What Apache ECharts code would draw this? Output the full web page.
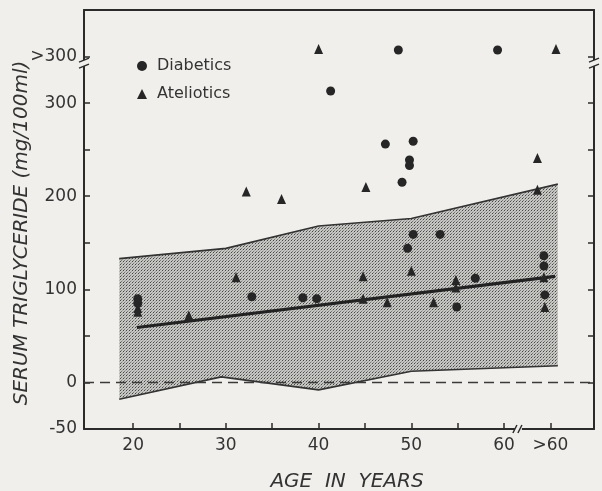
<!DOCTYPE html>
<html><head><meta charset="utf-8">
<script src="https://cdn.jsdelivr.net/npm/echarts@6/dist/echarts.min.js"></script>
<style>html,body{margin:0;padding:0;background:#f0efeb;}#c{width:602px;height:491px;}</style>
</head><body><div id="c"></div>
<script>
// ---- data ----
const diabetics = [
  [20.5, 90], [20.5, 85], [32.8, 92], [38.3, 91], [39.8, 90], [41.3, 313],
  [47.2, 256], [48.6, 357], [49.0, 215], [49.6, 144], [49.8, 239], [49.8, 233],
  [50.2, 259], [50.2, 159], [53.1, 159], [54.9, 81], [56.9, 112], [59.3, 357],
  [64.3, 136], [64.3, 125], [64.4, 94]
];
const ateliotics = [
  [20.5, 80], [20.5, 76], [26.0, 72], [31.1, 113], [32.2, 205], [36.0, 197],
  [40.0, 358], [44.8, 114], [44.8, 90], [45.1, 210], [47.4, 86], [50.0, 120],
  [52.4, 86], [54.8, 110], [54.8, 102], [63.6, 241], [63.6, 207], [64.3, 113],
  [64.4, 81], [65.6, 358]
];
const bandUpper = [[18.5, 133], [30, 144], [40, 168], [50, 176], [65.8, 213]];
const bandLower = [[18.5, -18], [29.5, 6], [40, -8], [50, 12], [65.8, 18]];
const regression = [[20.4, 59], [65.5, 114]];
const zeroLine = [[14.7, 0], [69.7, 0]];
const xTickValues = [20, 25, 30, 35, 40, 45, 50, 55, 60, 65];
const xLabelValues = [20, 30, 40, 50, 60, 65];
const xLabelText = {20: '20', 30: '30', 40: '40', 50: '50', 60: '60', 65: '>60'};
const yTickValues = [0, 50, 100, 150, 200, 250, 300, 350];
const yLabelValues = [-50, 0, 100, 200, 300, 350];
const yLabelText = {'-50': '-50', 0: '0', 100: '100', 200: '200', 300: '300', 350: '>300'};
const breakMarks = [[61.6, -50, 0], [14.7, 343, 1], [69.7, 343, 1]];
const xRange = [14.7, 69.7];
const yRange = [-50, 400];

// ---- styling ----
const BG = '#f0efeb';
const INK = '#2b2b2b';
const FONT = 'DejaVu Sans';

const pc = document.createElement('canvas');
pc.width = 3; pc.height = 3;
const g = pc.getContext('2d');
g.fillStyle = '#c6c6c2'; g.fillRect(0, 0, 3, 3);
g.fillStyle = '#474747'; g.fillRect(0, 0, 1, 1);
g.fillStyle = '#787876'; g.fillRect(1, 2, 1, 1);
g.fillStyle = '#a4a4a2'; g.fillRect(2, 1, 1, 1);

const chart = echarts.init(document.getElementById('c'), null, {renderer: 'canvas'});

const axisLine = {show: true, onZero: false, lineStyle: {color: INK, width: 2}};
const labelStyle = {fontFamily: FONT, fontSize: 17, color: '#333'};

chart.setOption({
  backgroundColor: BG,
  animation: false,
  grid: {left: 84, right: 8, top: 10, bottom: 62, containLabel: false, outerBoundsMode: 'none'},
  legend: {
    orient: 'vertical', left: 132, top: 52, itemWidth: 10, itemHeight: 10, itemGap: 10,
    textStyle: {fontFamily: FONT, fontSize: 16, color: '#333', lineHeight: 18, padding: [0, 0, 0, 5]},
    data: ['Diabetics', 'Ateliotics']
  },
  xAxis: [{
    type: 'value', min: xRange[0], max: xRange[1], position: 'bottom',
    axisLine: axisLine,
    axisTick: {show: true, inside: true, length: 6, customValues: xTickValues, lineStyle: {color: INK, width: 1.5}},
    axisLabel: Object.assign({customValues: xLabelValues, margin: 8, formatter: v => xLabelText[v] || ''}, labelStyle),
    splitLine: {show: false}
  }, {
    type: 'value', min: xRange[0], max: xRange[1], position: 'top',
    axisLine: axisLine, axisTick: {show: false}, axisLabel: {show: false}, splitLine: {show: false}
  }],
  yAxis: [{
    type: 'value', min: yRange[0], max: yRange[1], position: 'left',
    axisLine: axisLine,
    axisTick: {show: true, inside: true, length: 6, customValues: yTickValues, lineStyle: {color: INK, width: 1.5}},
    axisLabel: Object.assign({customValues: yLabelValues, margin: 7, formatter: v => yLabelText[v] || ''}, labelStyle),
    splitLine: {show: false}
  }, {
    type: 'value', min: yRange[0], max: yRange[1], position: 'right',
    axisLine: axisLine,
    axisTick: {show: true, inside: true, length: 6, customValues: yTickValues, lineStyle: {color: INK, width: 1.5}},
    axisLabel: {show: false}, splitLine: {show: false}
  }],
  graphic: [{
    type: 'text', x: 22, y: 233, rotation: Math.PI / 2,
    style: {text: 'SERUM TRIGLYCERIDE (mg/100ml)', font: 'italic 20px "DejaVu Sans"', fill: '#333',
      textAlign: 'center', textVerticalAlign: 'middle'}
  }, {
    type: 'text', x: 347, y: 482,
    style: {text: 'AGE  IN  YEARS', font: 'italic 20px "DejaVu Sans"', fill: '#333',
      textAlign: 'center', textVerticalAlign: 'middle'}
  }],
  series: [{
    type: 'custom', name: 'band', z: 1, silent: true,
    data: [bandUpper[0]],
    renderItem: (params, api) => {
      const pts = bandUpper.map(p => api.coord(p))
        .concat(bandLower.slice().reverse().map(p => api.coord(p)));
      return {type: 'polygon', shape: {points: pts},
        style: {fill: {image: pc, repeat: 'repeat'}, stroke: null}};
    }
  }, {
    type: 'line', name: 'upperEdge', data: bandUpper, symbol: 'none', z: 2, silent: true,
    lineStyle: {color: '#333', width: 1.6}
  }, {
    type: 'line', name: 'lowerEdge', data: bandLower, symbol: 'none', z: 2, silent: true,
    lineStyle: {color: '#333', width: 1.6}
  }, {
    type: 'line', name: 'zero', data: zeroLine, symbol: 'none', z: 3, silent: true,
    lineStyle: {color: '#3a3a3a', width: 1.5, type: [10, 6]}
  }, {
    type: 'line', name: 'regression', data: regression, symbol: 'none', z: 4, silent: true,
    lineStyle: {color: '#222', width: 3.2}
  }, {
    type: 'scatter', name: 'Diabetics', data: diabetics, symbol: 'circle', symbolSize: 9, z: 5,
    itemStyle: {color: '#262626', opacity: 1}
  }, {
    type: 'scatter', name: 'Ateliotics', data: ateliotics, symbol: 'triangle', symbolSize: [9, 10], z: 5,
    itemStyle: {color: '#262626', opacity: 1}
  }, {
    type: 'custom', name: 'breaks', z: 20, silent: true, clip: false,
    data: breakMarks,
    renderItem: (params, api) => {
      const c = api.coord([api.value(0), api.value(1)]);
      const s = {stroke: INK, lineWidth: 1.5};
      if (api.value(2) === 0) {
        return {type: 'group', children: [
          {type: 'rect', shape: {x: c[0] - 4, y: c[1] - 3, width: 7, height: 6}, style: {fill: BG}},
          {type: 'line', shape: {x1: c[0] - 6, y1: c[1] + 4, x2: c[0] - 2, y2: c[1] - 4}, style: s},
          {type: 'line', shape: {x1: c[0] - 1, y1: c[1] + 4, x2: c[0] + 3, y2: c[1] - 4}, style: s}
        ]};
      }
      return {type: 'group', children: [
        {type: 'rect', shape: {x: c[0] - 3, y: c[1] - 3, width: 6, height: 6}, style: {fill: BG}},
        {type: 'line', shape: {x1: c[0] - 5, y1: c[1] - 1, x2: c[0] + 5, y2: c[1] - 5}, style: s},
        {type: 'line', shape: {x1: c[0] - 5, y1: c[1] + 5, x2: c[0] + 5, y2: c[1] + 1}, style: s}
      ]};
    }
  }]
});
</script>
</body></html>
